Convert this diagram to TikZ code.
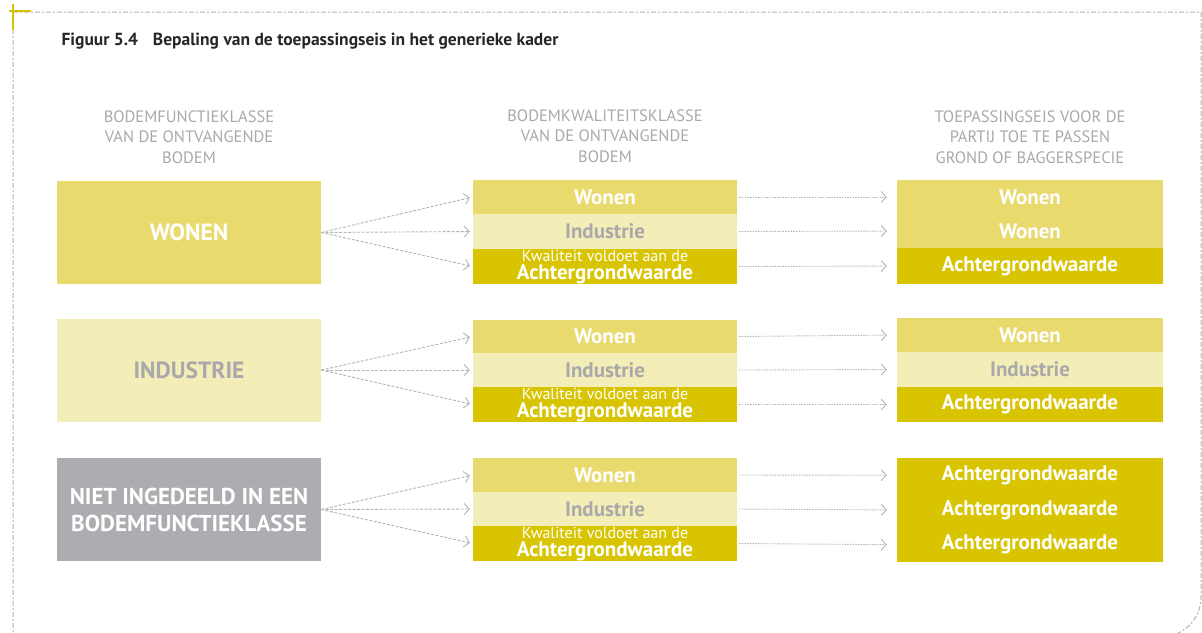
\documentclass[tikz,border=0pt]{standalone}
\usepackage{fontspec}
\setmainfont{PT Sans}
\usetikzlibrary{arrows.meta}
\definecolor{ymid}{HTML}{E9DA6E}
\definecolor{ylight}{HTML}{F3EDB8}
\definecolor{ydark}{HTML}{D8C400}
\definecolor{gbox}{HTML}{ADACB0}
\definecolor{gtext}{HTML}{A9A8AB}
\definecolor{gline}{HTML}{B4B4B4}
\tikzset{
  bigbox/.style={minimum width=264pt, minimum height=103pt, inner sep=0pt, align=center, font=\bfseries\fontsize{23.5}{26}\selectfont},
  stripe/.style={minimum width=264pt, inner sep=0pt, align=center, font=\bfseries\fontsize{21}{21}\selectfont, text=white},
  kwtext/.style={anchor=base, inner sep=0pt, text=white, text depth=0pt, font=\fontsize{16}{16}\selectfont},
  achtext/.style={anchor=base, inner sep=0pt, text=white, text height=14.5pt, font=\bfseries\fontsize{21}{21}\selectfont},
  hdr/.style={align=center, text=gtext, font=\fontsize{16.5}{20.5}\selectfont},
  fan/.style={draw=gline, line width=0.9pt, dash pattern=on 3pt off 1.5pt, -{Straight Barb[length=5pt,width=11pt,line width=0.9pt]}, shorten >=3pt},
  flow/.style={draw=gline, line width=0.9pt, dash pattern=on 1.5pt off 1.2pt, -{Straight Barb[length=5pt,width=11pt,line width=0.9pt]}, shorten >=10pt, shorten <=2pt},
}
\begin{document}
\begin{tikzpicture}[x=1pt,y=-1pt]
\useasboundingbox (0,0) rectangle (1202,632);
\clip (0,0) rectangle (1202,632);
% frame
\draw[gline, line width=1pt, dash pattern=on 5pt off 2pt on 2pt off 2pt] (13,650) -- (13,12) -- (1201,12) -- (1201,597) arc[start angle=0, end angle=90, radius=40] -- (13,637);
\draw[ydark, line width=2pt] (9,10.5) -- (31,10.5);
\draw[ydark, line width=2pt] (13,4) -- (13,30);
% title
\node[anchor=west, font=\bfseries\fontsize{17.5}{19}\selectfont, text=black!85] (title) at (58,41) {Figuur 5.4\hspace{0.6em} Bepaling van de toepassingseis in het generieke kader};
% headers
\node[hdr] (h1) at (189,137) {BODEMFUNCTIEKLASSE\\VAN DE ONTVANGENDE\\BODEM};
\node[hdr] (h2) at (605,136) {BODEMKWALITEITSKLASSE\\VAN DE ONTVANGENDE\\BODEM};
\node[hdr] (h3) at (1030,137) {TOEPASSINGSEIS VOOR DE\\PARTIJ TOE TE PASSEN\\GROND OF BAGGERSPECIE};
% column 1
\node[bigbox, fill=ymid, text=white] (a1) at (189,232.5) {WONEN};
\node[bigbox, fill=ylight, text=gtext] (a2) at (189,370) {INDUSTRIE};
\node[bigbox, fill=gbox, text=white, font=\bfseries\fontsize{23}{27}\selectfont] (a3) at (189,509.5) {NIET INGEDEELD IN EEN\\BODEMFUNCTIEKLASSE};
% column 2
\node[stripe, fill=ymid, minimum height=34pt] (b11) at (605,197) {Wonen};
\node[stripe, fill=ylight, minimum height=35pt, text=gtext] (b12) at (605,231.5) {Industrie};
\node[stripe, fill=ydark, minimum height=35pt] (b13) at (605,266.5) {};
\node[stripe, fill=ymid, minimum height=33pt] (b21) at (605,336.5) {Wonen};
\node[stripe, fill=ylight, minimum height=34pt, text=gtext] (b22) at (605,370) {Industrie};
\node[stripe, fill=ydark, minimum height=35pt] (b23) at (605,404.5) {};
\node[stripe, fill=ymid, minimum height=34pt] (b31) at (605,475) {Wonen};
\node[stripe, fill=ylight, minimum height=34pt, text=gtext] (b32) at (605,509) {Industrie};
\node[stripe, fill=ydark, minimum height=35pt] (b33) at (605,543.5) {};
\foreach \r in {1,2,3}{
  \node[kwtext] (k\r) at ([yshift=5.5pt]b\r3.center) {Kwaliteit voldoet aan de};
  \node[achtext] (g\r) at ([yshift=-12.5pt]b\r3.center) {Achtergrondwaarde};
}
% column 3
\node[stripe, fill=ymid, minimum height=34pt, minimum width=266pt] (c11) at (1030,197) {Wonen};
\node[stripe, fill=ymid, minimum height=34pt, minimum width=266pt] (c12) at (1030,231) {Wonen};
\node[stripe, fill=ydark, minimum height=36pt, minimum width=266pt] (c13) at (1030,266) {Achtergrondwaarde};
\node[stripe, fill=ymid, minimum height=34pt, minimum width=266pt] (c21) at (1030,335) {Wonen};
\node[stripe, fill=ylight, minimum height=35pt, minimum width=266pt, text=gtext] (c22) at (1030,369.5) {Industrie};
\node[stripe, fill=ydark, minimum height=35pt, minimum width=266pt] (c23) at (1030,404.5) {Achtergrondwaarde};
\node[stripe, fill=ydark, minimum height=34.7pt, minimum width=266pt] (c31) at (1030,475.3) {Achtergrondwaarde};
\node[stripe, fill=ydark, minimum height=34.7pt, minimum width=266pt] (c32) at (1030,510) {Achtergrondwaarde};
\node[stripe, fill=ydark, minimum height=34.7pt, minimum width=266pt] (c33) at (1030,544.7) {Achtergrondwaarde};
% arrows
\foreach \r in {1,2,3}{
  \foreach \s in {1,2,3}{
    \draw[fan] (a\r.east) -- (b\r\s.west);
    \draw[flow] (b\r\s.east) -- (c\r\s.west);
  }
}
\end{tikzpicture}
\end{document}
